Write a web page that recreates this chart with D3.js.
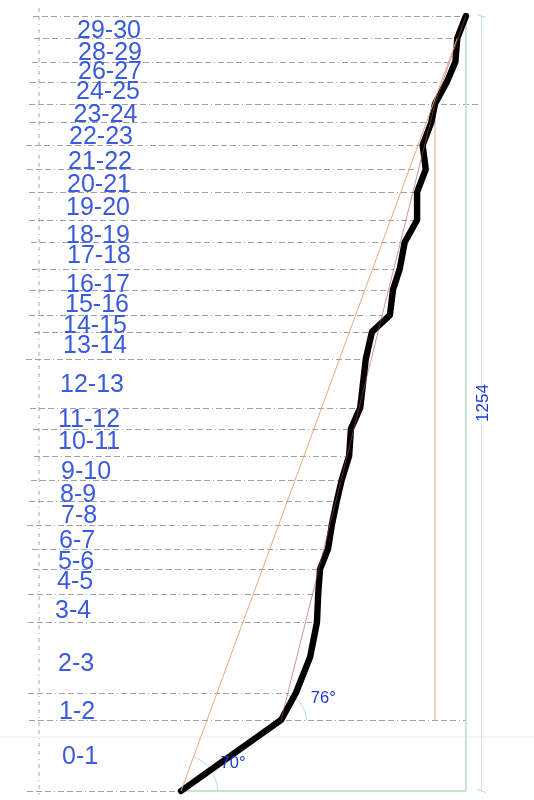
<!DOCTYPE html>
<html><head><meta charset="utf-8">
<script src="https://cdn.jsdelivr.net/npm/d3@7/dist/d3.min.js"></script>
<style>html,body{margin:0;background:#fff}svg{display:block;filter:blur(.35px)}</style></head>
<body><svg id="c" width="534" height="800"></svg>
<script>
// Values in millimetres (total rise 1254)
const totalRise = 1254;
const storeys = ["0-1","1-2","2-3","3-4","4-5","5-6","6-7","7-8","8-9","9-10","10-11","11-12","12-13","13-14","14-15","15-16","16-17","17-18","18-19","19-20","20-21","21-22","22-23","23-24","24-25","26-27","28-29","29-30"];
const gridElev = [0,115,159,273,319,359,392,430,469,503,542,586,620,699,743,770,811,845,888,924,969,1006,1045,1082,1112,1147,1180,1218,1254];
const profileElev = [0,115,159,217,273,319,359,392,430,469,503,542,586,620,699,743,770,811,845,888,924,969,1006,1045,1082,1112,1147,1180,1218,1254];
const profileShift = [0,162,186,209,220,222,225,238,244,252,260,272,275,290,299,309,338,343,354,362,382,382,396,391,405,411,430,444,447,461];
const chord70 = [[0,0],[447,1218]];
const chord76 = [[162,115],[411,1112],[461,1254]];
const plumb = [[411,115],[411,1112]];
const green = [[0,0],[461,0],[461,1254]];
const angleLabels = [{t:"70°",x:64,e:37},{t:"76°",x:210,e:142}];
const dimLabel = "1254";
// Layout
const gridLeft = [27,29,28,28,28,33,32,27,29,31,34,33,30,26,34,29,30,32,31,29,29,27,26,30,29,30,32,34,33];
const gridRight = [181,466,289,312,313,317,322,330,333,339,345,349,355,364,369,382,389,394,400,413,414,414,419,427,481,437,449,454,462];
const labelX = [62,59,58,55,57,58,59,61,60,61,58,58,60,63,63,65,66,67,66,66,67,68,69,73.5,76,78,78,77];
const labelY = [764,719,671,618,589,569,548,523,502,479,449,427,392,353,333,312,292,263,243,215,192,169,144,122,99,79,60,38];

const svg = d3.select("#c");
const y = d3.scaleLinear().domain([0,totalRise]).range([791,16]);
const x = d3.scaleLinear().domain([0,totalRise]).range([181,181+775]);
const line = d3.line().x(d=>x(d[0])).y(d=>y(d[1]));

svg.append("line").attr("x1",0).attr("x2",534).attr("y1",737).attr("y2",737).attr("stroke","#e6ebee").attr("stroke-width",1);
svg.append("line").attr("x1",39).attr("x2",39).attr("y1",8).attr("y2",795)
  .attr("stroke","#a8a8a8").attr("stroke-width",1).attr("stroke-dasharray","4 4 4 4 1 4");
svg.append("g").selectAll("line").data(gridElev).join("line")
  .attr("x1",(d,i)=>gridLeft[i]).attr("x2",(d,i)=>gridRight[i])
  .attr("y1",d=>Math.round(y(d))+.5).attr("y2",d=>Math.round(y(d))+.5)
  .attr("stroke","#a0a0a0").attr("stroke-width",1).attr("stroke-dasharray","6 3 6 3 6 3 1 3");
svg.append("path").attr("d",line(green)).attr("fill","none").attr("stroke","#c8e4c8").attr("stroke-width",1.8);
svg.append("path").attr("d",line(plumb)).attr("fill","none").attr("stroke","#ecc4bb").attr("stroke-width",1.6);
const dimX = 481.5;
svg.append("line").attr("x1",dimX).attr("x2",dimX).attr("y1",y(totalRise)).attr("y2",y(0)).attr("stroke","#c8e6f8").attr("stroke-width",1);
[y(totalRise),y(0)].forEach(v=>svg.append("line").attr("x1",dimX-4).attr("x2",dimX+4).attr("y1",v-1.5).attr("y2",v+1.5).attr("stroke","#9fd4f5").attr("stroke-width",1));
const arcPath = (cx,cy,r,deg)=>{const p=d3.path();p.arc(cx,cy,r,0,-deg*Math.PI/180,true);return p.toString();};
svg.append("path").attr("d",arcPath(x(0),y(0),36.5,70)).attr("fill","none").attr("stroke","#b0daf2").attr("stroke-width",1);
svg.append("path").attr("d",arcPath(x(162),y(115),25.5,76)).attr("fill","none").attr("stroke","#b0daf2").attr("stroke-width",1);
svg.append("path").attr("d",d3.line().x((d,i)=>x(profileShift[i])).y(d=>y(d))(profileElev))
  .attr("fill","none").attr("stroke","#000").attr("stroke-width",6.4).attr("stroke-linejoin","round").attr("stroke-linecap","round");
svg.append("path").attr("d",line(chord70)).attr("fill","none").attr("stroke","#eea878").attr("stroke-width",1);
svg.append("path").attr("d",line(chord76)).attr("fill","none").attr("stroke","#a0524a").attr("stroke-width",.8).attr("stroke-opacity",.75);
svg.append("g").selectAll("text").data(storeys).join("text")
  .attr("x",(d,i)=>labelX[i]).attr("y",(d,i)=>labelY[i]).text(d=>d)
  .attr("font-family","'Liberation Sans',Arial,sans-serif").attr("font-size",25).attr("fill","#3a5bdb");
svg.append("g").selectAll("text").data(angleLabels).join("text")
  .attr("x",d=>x(d.x)).attr("y",d=>y(d.e)).text(d=>d.t)
  .attr("font-family","'Liberation Sans',Arial,sans-serif").attr("font-size",16.5).attr("fill","#1a3ad6");
svg.append("text").attr("transform","translate(487.5,403) rotate(-90)").attr("text-anchor","middle").text(dimLabel)
  .attr("font-family","'Liberation Sans',Arial,sans-serif").attr("font-size",17).attr("fill","#1a3ad6");
</script></body></html>
